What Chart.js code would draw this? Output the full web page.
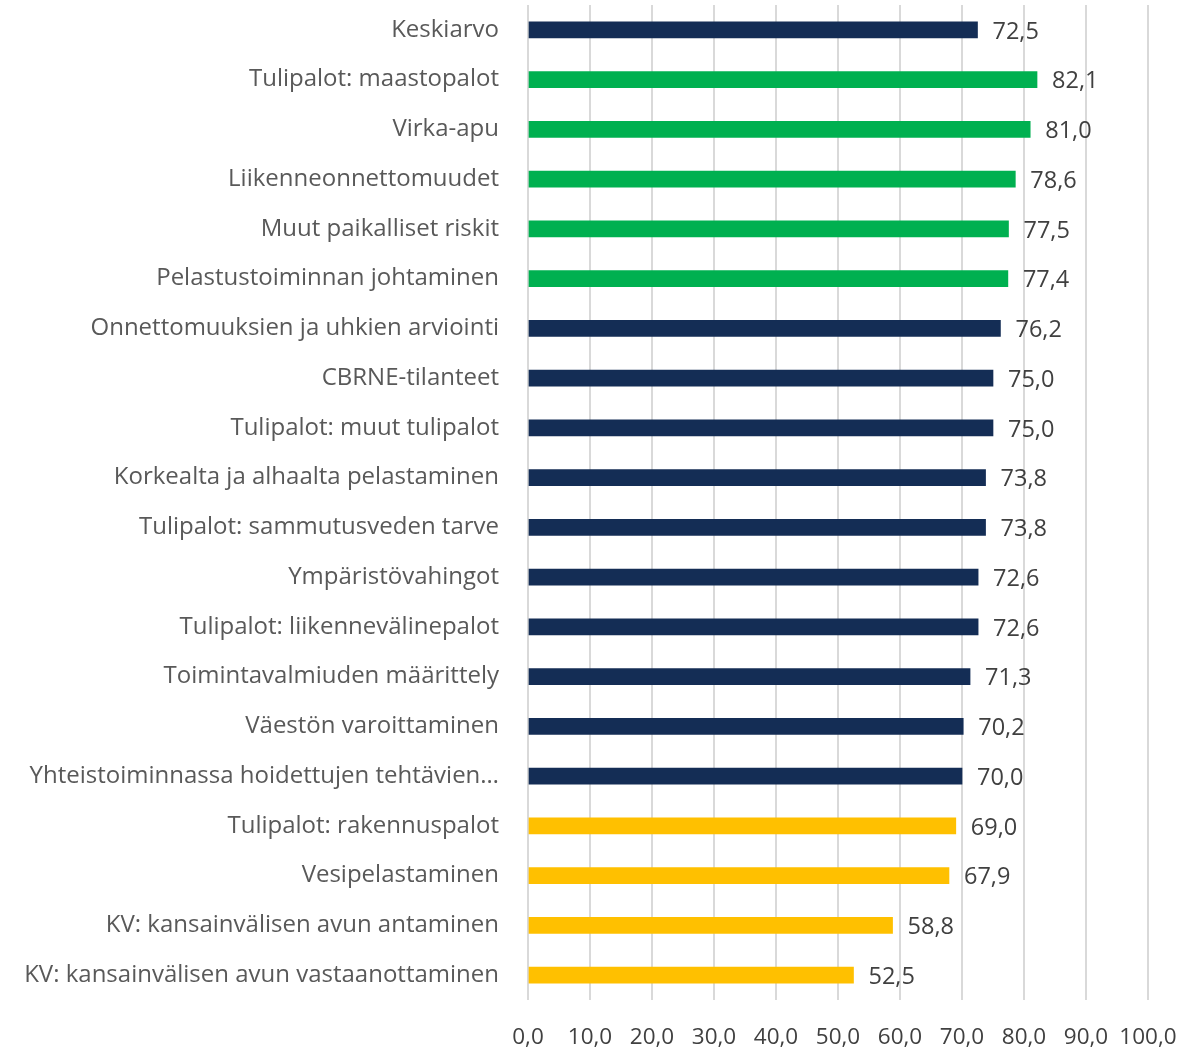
<!DOCTYPE html>
<html><head><meta charset="utf-8">
<script src="https://cdn.jsdelivr.net/npm/chart.js@4.4.0/dist/chart.umd.min.js"></script>
<style>html,body{margin:0;padding:0;background:#fff;}#c{display:block;}</style>
</head><body>
<canvas id="c" width="1202" height="1050"></canvas>
<script>
const categories = [
  "Keskiarvo",
  "Tulipalot: maastopalot",
  "Virka-apu",
  "Liikenneonnettomuudet",
  "Muut paikalliset riskit",
  "Pelastustoiminnan johtaminen",
  "Onnettomuuksien ja uhkien arviointi",
  "CBRNE-tilanteet",
  "Tulipalot: muut tulipalot",
  "Korkealta ja alhaalta pelastaminen",
  "Tulipalot: sammutusveden tarve",
  "Ympäristövahingot",
  "Tulipalot: liikennevälinepalot",
  "Toimintavalmiuden määrittely",
  "Väestön varoittaminen",
  "Yhteistoiminnassa hoidettujen tehtävien…",
  "Tulipalot: rakennuspalot",
  "Vesipelastaminen",
  "KV: kansainvälisen avun antaminen",
  "KV: kansainvälisen avun vastaanottaminen"
];
const values = [72.5, 82.1, 81.0, 78.6, 77.5, 77.4, 76.2, 75.0, 75.0, 73.8, 73.8, 72.6, 72.6, 71.3, 70.2, 70.0, 69.0, 67.9, 58.8, 52.5];
const groups = ["avg","high","high","high","high","high","mid","mid","mid","mid","mid","mid","mid","mid","mid","mid","low","low","low","low"];
const xTicks = [0,10,20,30,40,50,60,70,80,90,100];

const groupColors = {avg:"#142D55", mid:"#142D55", high:"#00B050", low:"#FFC000"};
const fmt = v => v.toFixed(1).replace(".", ",");

const valueLabels = {
  id: "valueLabels",
  afterDatasetsDraw(chart) {
    const ctx = chart.ctx;
    const meta = chart.getDatasetMeta(0);
    ctx.save();
    ctx.font = "23.5px 'Open Sans'";
    ctx.fillStyle = "#404040";
    ctx.textAlign = "left";
    ctx.textBaseline = "middle";
    meta.data.forEach((bar, i) => {
      ctx.fillText(fmt(values[i]), bar.x + 15, bar.y + 2);
    });
    ctx.restore();
  }
};

new Chart(document.getElementById("c"), {
  type: "bar",
  data: {
    labels: categories,
    datasets: [{
      data: values,
      backgroundColor: groups.map(g => groupColors[g]),
      barThickness: 16,
      borderWidth: 0
    }]
  },
  options: {
    indexAxis: "y",
    responsive: false,
    animation: false,
    layout: {padding: {left: 0, right: 54, top: 5, bottom: 0}},
    plugins: {legend: {display: false}, tooltip: {enabled: false}},
    scales: {
      x: {
        min: 0, max: 100,
        afterBuildTicks: axis => { axis.ticks = xTicks.map(v => ({value: v})); },
        afterFit: axis => { axis.height = 50; axis.paddingLeft = 0; axis.paddingRight = 0; },
        grid: {color: "#D9D9D9", lineWidth: 2, drawTicks: false},
        border: {display: false},
        ticks: {
          callback: v => fmt(v),
          font: {family: "'Open Sans'", size: 22.5},
          color: "#404040",
          padding: 24,
          maxRotation: 0,
          minRotation: 0,
          autoSkip: false
        }
      },
      y: {
        afterFit: axis => { axis.width = 528; axis.paddingTop = 0; axis.paddingBottom = 0; },
        grid: {display: false},
        border: {display: false},
        ticks: {
          font: {family: "'Open Sans'", size: 24},
          color: "#595959",
          padding: 21,
          autoSkip: false
        }
      }
    }
  },
  plugins: [valueLabels]
});
</script>
</body></html>
